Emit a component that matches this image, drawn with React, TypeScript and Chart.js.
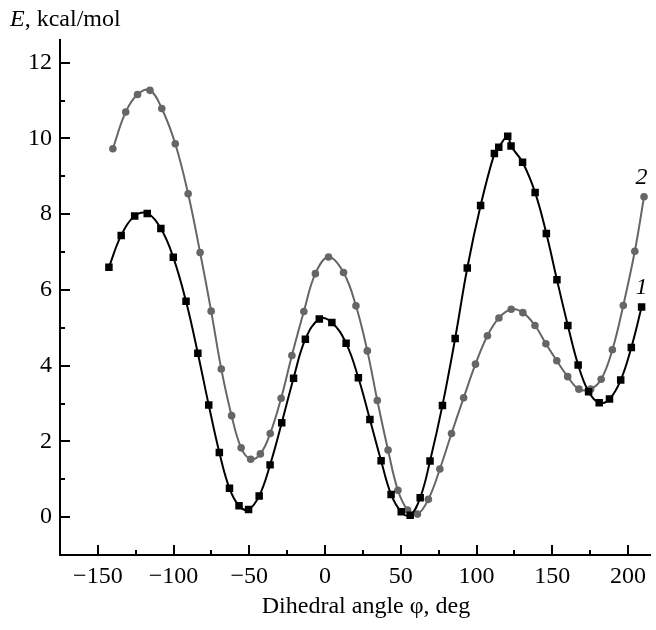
import React, { useEffect, useRef } from "react";
import { Chart, registerables } from "chart.js";

Chart.register(...registerables);

// Curve 1 (black squares)
const curve1Angle = [
  -142.7, -134.6, -125.7, -117.4, -108.4, -100.2, -91.8, -84.0, -76.8, -69.8,
  -63.1, -56.8, -50.5, -43.5, -36.3, -28.6, -20.8, -13.0, -3.8, 4.5,
  13.9, 22.0, 29.6, 37.0, 43.6, 50.3, 56.2, 62.8, 69.3, 77.5,
  85.9, 93.9, 102.7, 111.8, 114.7, 120.6, 122.8, 130.4, 138.7, 146.1,
  153.1, 160.3, 167.1, 174.0, 181.0, 187.8, 195.2, 202.2, 209.0,
];
const curve1Energy = [
  6.6, 7.44, 7.95, 8.02, 7.62, 6.86, 5.7, 4.33, 2.96, 1.71,
  0.76, 0.3, 0.2, 0.56, 1.38, 2.49, 3.67, 4.7, 5.23, 5.14,
  4.59, 3.68, 2.58, 1.49, 0.6, 0.14, 0.05, 0.51, 1.48, 2.95,
  4.72, 6.58, 8.23, 9.6, 9.77, 10.06, 9.8, 9.37, 8.57, 7.49,
  6.27, 5.06, 4.02, 3.31, 3.02, 3.12, 3.62, 4.48, 5.55,
];

// Curve 2 (grey circles)
const curve2Angle = [
  -140.1, -131.6, -123.8, -115.6, -107.8, -98.9, -90.4, -82.5, -75.2, -68.5,
  -61.7, -55.4, -49.1, -42.7, -36.2, -29.0, -21.9, -14.0, -6.4, 2.3,
  12.2, 20.4, 27.9, 34.5, 41.6, 48.1, 54.5, 61.0, 68.2, 75.8,
  83.5, 91.5, 99.3, 107.2, 114.8, 122.9, 130.6, 138.6, 145.8, 153.0,
  160.2, 167.6, 175.3, 182.3, 189.7, 196.9, 204.5, 210.6,
];
const curve2Energy = [
  9.73, 10.7, 11.16, 11.27, 10.79, 9.86, 8.54, 6.99, 5.44, 3.91,
  2.68, 1.83, 1.53, 1.67, 2.21, 3.14, 4.27, 5.43, 6.43, 6.87,
  6.46, 5.58, 4.39, 3.08, 1.77, 0.71, 0.19, 0.08, 0.47, 1.27,
  2.21, 3.15, 4.04, 4.79, 5.26, 5.49, 5.4, 5.06, 4.58, 4.13,
  3.71, 3.38, 3.38, 3.64, 4.42, 5.59, 7.02, 8.46,
];

const seriesNames = ["1", "2"];
const xTickValues = [-150, -100, -50, 0, 50, 100, 150, 200];
const yTickValues = [0, 2, 4, 6, 8, 10, 12];
const xTitleText = "Dihedral angle \u03c6, deg";
const yTitleSymbol = "E";
const yTitleUnit = ", kcal/mol";
const curveLabelAnchors = [
  { x: 209, y: 6.1 },
  { x: 209, y: 9.0 },
];

const FONT = '"Liberation Serif", "Times New Roman", serif';
const FS = 24;

export default function App() {
  const ref = useRef<HTMLCanvasElement>(null);

  useEffect(() => {
    const canvas = ref.current;
    if (!canvas) return;

    const decor = {
      id: "decor",
      afterDraw(chart: any) {
        const { ctx, chartArea: a, scales } = chart;
        const xs = scales.x;
        const ys = scales.y;
        ctx.save();
        ctx.strokeStyle = "#000";
        ctx.lineWidth = 2;
        ctx.beginPath();
        for (let v = Math.ceil(xs.min / 25) * 25; v <= xs.max; v += 25) {
          const px = Math.round(xs.getPixelForValue(v));
          if (px <= a.left + 2) continue;
          const len = v % 50 === 0 ? 10 : 5;
          ctx.moveTo(px, a.bottom);
          ctx.lineTo(px, a.bottom - len);
        }
        for (let v = Math.ceil(ys.min); v <= ys.max; v += 1) {
          const py = Math.round(ys.getPixelForValue(v));
          if (py >= a.bottom - 2) continue;
          const len = v % 2 === 0 ? 10 : 5;
          ctx.moveTo(a.left, py);
          ctx.lineTo(a.left + len, py);
        }
        ctx.stroke();

        ctx.fillStyle = "#000";
        ctx.textBaseline = "alphabetic";
        // y title
        ctx.textAlign = "left";
        ctx.font = `italic ${FS}px ${FONT}`;
        const ex = 10;
        const ey = 26;
        ctx.fillText(yTitleSymbol, ex, ey);
        const w = ctx.measureText(yTitleSymbol).width;
        ctx.font = `${FS}px ${FONT}`;
        ctx.fillText(yTitleUnit, ex + w, ey);
        // x title
        ctx.textAlign = "center";
        ctx.fillText(xTitleText, 366, 613);
        // curve labels
        ctx.font = `italic ${FS}px ${FONT}`;
        curveLabelAnchors.forEach((p, i) => {
          ctx.fillText(
            seriesNames[i],
            xs.getPixelForValue(p.x),
            ys.getPixelForValue(p.y) + 8
          );
        });
        ctx.restore();
      },
    };

    const chart = new Chart(canvas, {
      type: "scatter",
      data: {
        datasets: [
          {
            label: seriesNames[0],
            data: curve1Angle.map((x, i) => ({ x, y: curve1Energy[i] })),
            showLine: true,
            tension: 0.4,
            borderColor: "#000",
            backgroundColor: "#000",
            borderWidth: 2,
            pointStyle: "rect",
            pointRadius: 5.3,
            pointBorderWidth: 0,
          },
          {
            label: seriesNames[1],
            data: curve2Angle.map((x, i) => ({ x, y: curve2Energy[i] })),
            showLine: true,
            tension: 0.4,
            borderColor: "#666",
            backgroundColor: "#666",
            borderWidth: 2,
            pointStyle: "circle",
            pointRadius: 3.8,
            pointBorderWidth: 0,
          },
        ],
      },
      options: {
        animation: false,
        responsive: false,
        devicePixelRatio: 1,
        layout: { padding: { top: 40, left: 0, right: 0, bottom: 0 } },
        plugins: {
          legend: { display: false },
          tooltip: { enabled: false },
        },
        scales: {
          x: {
            type: "linear",
            min: -175,
            max: 215,
            afterBuildTicks: (s: any) => {
              s.ticks = xTickValues.map((v) => ({ value: v }));
            },
            afterFit: (s: any) => {
              s.height = 75;
            },
            grid: { display: false, drawTicks: false },
            border: { display: true, color: "#000", width: 2 },
            ticks: {
              padding: 7,
              color: "#000",
              font: { family: FONT, size: FS },
              maxRotation: 0,
              autoSkip: false,
              callback: (v: any) =>
                Number(v) < 0 ? "\u2212" + Math.abs(Number(v)) : String(v),
            },
          },
          y: {
            type: "linear",
            min: -1,
            max: 12.6,
            afterBuildTicks: (s: any) => {
              s.ticks = yTickValues.map((v) => ({ value: v }));
            },
            afterFit: (s: any) => {
              s.width = 60;
            },
            grid: { display: false, drawTicks: false },
            border: { display: true, color: "#000", width: 2 },
            ticks: {
              padding: 8,
              color: "#000",
              font: { family: FONT, size: FS },
              autoSkip: false,
            },
          },
        },
      },
      plugins: [decor],
    } as any);

    return () => chart.destroy();
  }, []);

  return (
    <div style={{ position: "absolute", left: 0, top: 0, width: 656, height: 630, background: "#fff" }}>
      <canvas ref={ref} width={656} height={630} style={{ width: 656, height: 630 }} />
    </div>
  );
}
